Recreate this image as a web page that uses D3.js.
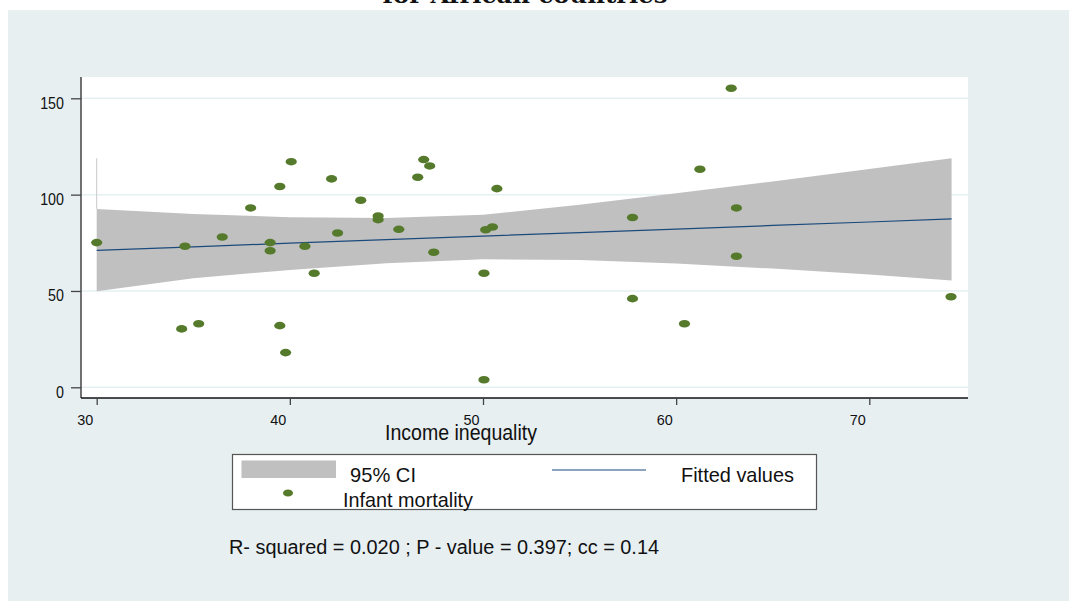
<!DOCTYPE html>
<html><head><meta charset="utf-8">
<script src="https://cdn.jsdelivr.net/npm/d3@7"></script>
<style>body{margin:0;background:#fff}svg{display:block}text{font-family:"Liberation Sans",Arial,sans-serif;fill:#111}</style>
</head><body><svg id="c" width="1069" height="601"></svg>
<script>
// ---- data ----
const incomeInequality = [30.0,34.4,34.57,35.28,36.5,37.97,38.98,38.98,39.48,39.48,39.78,40.07,40.78,41.26,42.16,42.47,43.67,44.57,44.57,45.64,46.62,46.93,47.24,47.45,50.05,50.05,50.14,50.49,50.72,57.74,57.74,60.43,61.23,62.85,63.12,63.12,74.23];
const infantMortality  = [75.1,30.3,73.2,33.0,78.0,93.1,75.1,70.9,104.2,32.0,18.0,117.1,73.2,59.2,108.2,80.1,97.1,88.9,87.0,82.0,109.0,118.2,114.9,70.1,59.2,3.9,81.8,83.2,103.1,88.1,46.0,33.0,113.2,155.2,93.1,68.0,47.0];
const fitX      = [30,35,40,45,50,55,60,65,70,74.26];
const fitted    = [71.1,72.9,74.8,76.6,78.5,80.3,82.1,84.0,85.8,87.4];
const ciUpper   = [92.6,90.0,88.3,87.9,89.5,94.7,100.7,106.8,113.3,118.9];
const ciLower   = [49.8,56.6,60.9,64.4,66.5,66.1,64.2,61.6,58.5,55.4];
const xTicks = [30,40,50,60,70];
const yTicks = [0,50,100,150];
const titleText = "for African countries";
const xTitle = "Income inequality";
const legendLabels = ["95% CI","Fitted values","Infant mortality"];
const statsText = "R- squared = 0.020 ; P - value = 0.397; cc = 0.14";

const svg = d3.select("#c");
const PANEL = "#e7eff1", DOT = "#557a2c", CI = "#c0c0c0", FIT = "#1b4a7c";

svg.append("rect").attr("x",0).attr("y",0).attr("width",1069).attr("height",601).attr("fill","#fff");
svg.append("rect").attr("x",8).attr("y",10).attr("width",1061).attr("height",591).attr("fill",PANEL);

// title (cut off at top)
svg.append("text").attr("x",525).attr("y",3).attr("text-anchor","middle")
  .style("font-family","'DejaVu Serif','Liberation Serif',serif").style("font-weight","bold")
  .style("font-size","22px").attr("textLength",285).attr("lengthAdjust","spacingAndGlyphs").text(titleText);

const x = d3.scaleLinear().domain([30,70]).range([96.7,869.3]);
const y = d3.scaleLinear().domain([0,150]).range([387.3,98.3]);
const L = 81, R = 968, T = 77, B = 398;

svg.append("rect").attr("x",L).attr("y",T).attr("width",R-L).attr("height",B-T).attr("fill","#fff");

// grid
svg.append("g").selectAll("line").data(yTicks).join("line")
  .attr("x1",L).attr("x2",R).attr("y1",d=>y(d)).attr("y2",d=>y(d))
  .attr("stroke","#e6eff1").attr("stroke-width",1.5);

// CI band
const ciData = fitX.map((v,i)=>({x:v,u:ciUpper[i],l:ciLower[i]}));
svg.append("path").datum(ciData)
  .attr("d",d3.area().x(d=>x(d.x)).y0(d=>y(d.l)).y1(d=>y(d.u)))
  .attr("fill",CI);
// artifact vertical line at left edge of band
svg.append("line").attr("x1",x(fitX[0])).attr("x2",x(fitX[0]))
  .attr("y1",y(ciUpper[ciUpper.length-1])).attr("y2",y(ciUpper[0]))
  .attr("stroke","#c8c8c8").attr("stroke-width",1);

// fitted line
svg.append("path").datum(fitX.map((v,i)=>[v,fitted[i]]))
  .attr("d",d3.line().x(d=>x(d[0])).y(d=>y(d[1])))
  .attr("fill","none").attr("stroke",FIT).attr("stroke-width",1.2);

// points
svg.append("g").selectAll("ellipse").data(incomeInequality.map((v,i)=>[v,infantMortality[i]])).join("ellipse")
  .attr("cx",d=>x(d[0])).attr("cy",d=>y(d[1])).attr("rx",5.6).attr("ry",3.8).attr("fill",DOT);

// axes
const yAxis = svg.append("g").attr("transform",`translate(${L},0)`)
  .call(d3.axisLeft(y).tickValues(yTicks).tickSize(10).tickPadding(8));
yAxis.select(".domain").attr("d",`M0,${T}V${B}`).attr("stroke","#444").attr("stroke-width",1.5);
yAxis.selectAll(".tick line").attr("stroke","#444").attr("stroke-width",1.3);
yAxis.selectAll(".tick text").style("font-size","15px").attr("fill","#111").attr("dy","0.6em")
  .attr("transform","scale(0.95,1.1)");

const xAxis = svg.append("g").attr("transform",`translate(0,${B})`)
  .call(d3.axisBottom(x).tickValues(xTicks).tickSize(7).tickPadding(9));
xAxis.select(".domain").attr("d",`M${L},0H${R}`).attr("stroke","#111").attr("stroke-width",1.6);
xAxis.selectAll(".tick line").attr("stroke","#444").attr("stroke-width",1.3);
xAxis.selectAll(".tick text").style("font-size","15px").attr("fill","#111").attr("dx","-12")
  .attr("textLength",16).attr("lengthAdjust","spacingAndGlyphs");

svg.append("text").attr("x",461).attr("y",440).attr("text-anchor","middle")
  .style("font-size","22px").attr("textLength",152).attr("lengthAdjust","spacingAndGlyphs").text(xTitle);

// legend
svg.append("rect").attr("x",232.5).attr("y",454.5).attr("width",584).attr("height",55)
  .attr("fill","#fff").attr("stroke","#555").attr("stroke-width",1.2);
svg.append("rect").attr("x",241.5).attr("y",460.5).attr("width",94.5).attr("height",17.5).attr("fill",CI);
svg.append("line").attr("x1",552).attr("x2",646).attr("y1",470).attr("y2",470).attr("stroke",FIT).attr("stroke-width",1.2);
svg.append("ellipse").attr("cx",288).attr("cy",493).attr("rx",5).attr("ry",3.6).attr("fill",DOT);
svg.append("text").attr("x",350).attr("y",482).style("font-size","21px")
  .attr("textLength",66).attr("lengthAdjust","spacingAndGlyphs").text(legendLabels[0]);
svg.append("text").attr("x",681).attr("y",482).style("font-size","21px")
  .attr("textLength",113).attr("lengthAdjust","spacingAndGlyphs").text(legendLabels[1]);
svg.append("text").attr("x",343).attr("y",507).style("font-size","21px")
  .attr("textLength",130).attr("lengthAdjust","spacingAndGlyphs").text(legendLabels[2]);

svg.append("text").attr("x",229).attr("y",554).style("font-size","20px")
  .attr("textLength",430).attr("lengthAdjust","spacingAndGlyphs").text(statsText);
</script></body></html>
